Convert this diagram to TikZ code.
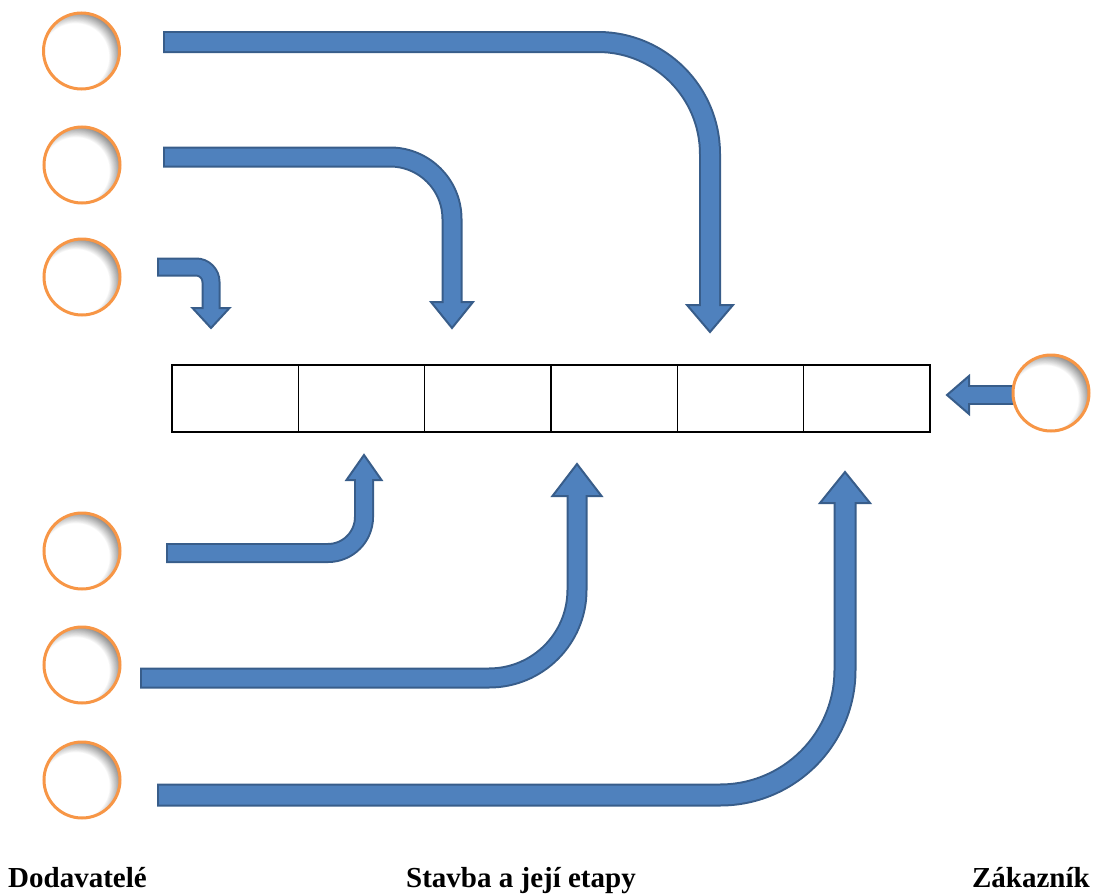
\documentclass[tikz,border=0pt]{standalone}
\usepackage{fontspec}
\setmainfont{Liberation Serif}
\definecolor{arrfill}{HTML}{4F81BD}
\definecolor{arrline}{HTML}{385D8A}
\definecolor{corange}{HTML}{F79646}
\begin{document}
\begin{tikzpicture}[x=1pt,y=-1pt,
  ball/.style={circle, inner sep=0pt, minimum size=76pt, draw=corange, line width=3pt,
    path picture={
      \fill[black!50] (path picture bounding box.center) circle[radius=40pt];
      \foreach \i in {0,...,19}{
        \pgfmathsetmacro\pc{100*\i/19}
        \fill[white!\pc!black!50] ([xshift=-6pt,yshift=-6pt]path picture bounding box.center) circle[radius={47pt-0.7pt*\i}];
      }
    }},
  cell/.style={rectangle, draw=black, line width=1.2pt, minimum width=126.33pt, minimum height=67pt, inner sep=0pt},
  lbl/.style={font=\fontsize{29}{30}\selectfont\bfseries, inner sep=0pt},
  shaftout/.style={draw=arrline, line cap=butt},
  shaftin/.style={draw=arrfill, line cap=butt, shorten <=2pt, shorten >=-2.5pt},
  headtri/.style={fill=arrfill, draw=arrline, line width=2pt, line join=miter}
]
\useasboundingbox (0,0) rectangle (1096,894);

% stages
\foreach \i in {1,...,6}{
  \node[cell] (e\i) at ({172+126.333*(\i-0.5)},398.5) {};
}

% coordinates of arrows
\coordinate (s1) at (163,42);  \coordinate (k1) at (710,42);  \coordinate (b1) at (710,305); \coordinate (t1) at (710,332);
\coordinate (s2) at (163,157); \coordinate (k2) at (452,157); \coordinate (b2) at (452,302); \coordinate (t2) at (452,328);
\coordinate (s3) at (157,267); \coordinate (k3) at (211,267); \coordinate (b3) at (211,308); \coordinate (t3) at (211,328);
\coordinate (s4) at (166,553); \coordinate (k4) at (364,553); \coordinate (b4) at (364,480); \coordinate (t4) at (364,455);
\coordinate (s5) at (140,678); \coordinate (k5) at (577,678); \coordinate (b5) at (577,496); \coordinate (t5) at (577,464);
\coordinate (s6) at (157,795); \coordinate (k6) at (845,795); \coordinate (b6) at (845,503); \coordinate (t6) at (845,472);
\coordinate (s7) at (1025,395); \coordinate (b7) at (969,395); \coordinate (t7) at (947,395);

% arrow 1
\draw[shaftout, line width=22pt, rounded corners=112pt] (s1) -- (k1) -- (b1);
\draw[headtri] ([xshift=-23pt]b1) -- ([xshift=23pt]b1) -- (t1) -- cycle;
\draw[shaftin, line width=18pt, rounded corners=112pt] (s1) -- (k1) -- (b1);
% arrow 2
\draw[shaftout, line width=21pt, rounded corners=62pt] (s2) -- (k2) -- (b2);
\draw[headtri] ([xshift=-21pt]b2) -- ([xshift=21pt]b2) -- (t2) -- cycle;
\draw[shaftin, line width=17pt, rounded corners=62pt] (s2) -- (k2) -- (b2);
% arrow 3
\draw[shaftout, line width=19pt, rounded corners=15pt] (s3) -- (k3) -- (b3);
\draw[headtri] ([xshift=-18.5pt]b3) -- ([xshift=18.5pt]b3) -- (t3) -- cycle;
\draw[shaftin, line width=15pt, rounded corners=15pt] (s3) -- (k3) -- (b3);
% arrow 4
\draw[shaftout, line width=20pt, rounded corners=36pt] (s4) -- (k4) -- (b4);
\draw[headtri] ([xshift=-17.5pt]b4) -- ([xshift=17.5pt]b4) -- (t4) -- cycle;
\draw[shaftin, line width=16pt, rounded corners=36pt] (s4) -- (k4) -- (b4);
% arrow 5
\draw[shaftout, line width=21pt, rounded corners=88pt] (s5) -- (k5) -- (b5);
\draw[headtri] ([xshift=-24.5pt]b5) -- ([xshift=24.5pt]b5) -- (t5) -- cycle;
\draw[shaftin, line width=17pt, rounded corners=88pt] (s5) -- (k5) -- (b5);
% arrow 6
\draw[shaftout, line width=23pt, rounded corners=125pt] (s6) -- (k6) -- (b6);
\draw[headtri] ([xshift=-25pt]b6) -- ([xshift=25pt]b6) -- (t6) -- cycle;
\draw[shaftin, line width=19pt, rounded corners=125pt] (s6) -- (k6) -- (b6);
% arrow 7
\draw[shaftout, line width=20pt] (s7) -- (b7);
\draw[headtri] ([yshift=19pt]b7) -- ([yshift=-19pt]b7) -- (t7) -- cycle;
\draw[shaftin, line width=16pt] (s7) -- (b7);

% circles
\node[ball] (c1) at (81.5,51) {};
\node[ball] (c2) at (82,165) {};
\node[ball] (c3) at (82,277) {};
\node[ball] (c4) at (82,551) {};
\node[ball] (c5) at (82,665) {};
\node[ball] (c6) at (82,780) {};
\node[ball] (c7) at (1051,393) {};

% labels
\node[lbl, anchor=base west] (l1) at (8,887) {Dodavatelé};
\node[lbl, anchor=base west] (l2) at (406,887) {Stavba a její etapy};
\node[lbl, anchor=base east] (l3) at (1090,887) {Zákazník};
\end{tikzpicture}
\end{document}
